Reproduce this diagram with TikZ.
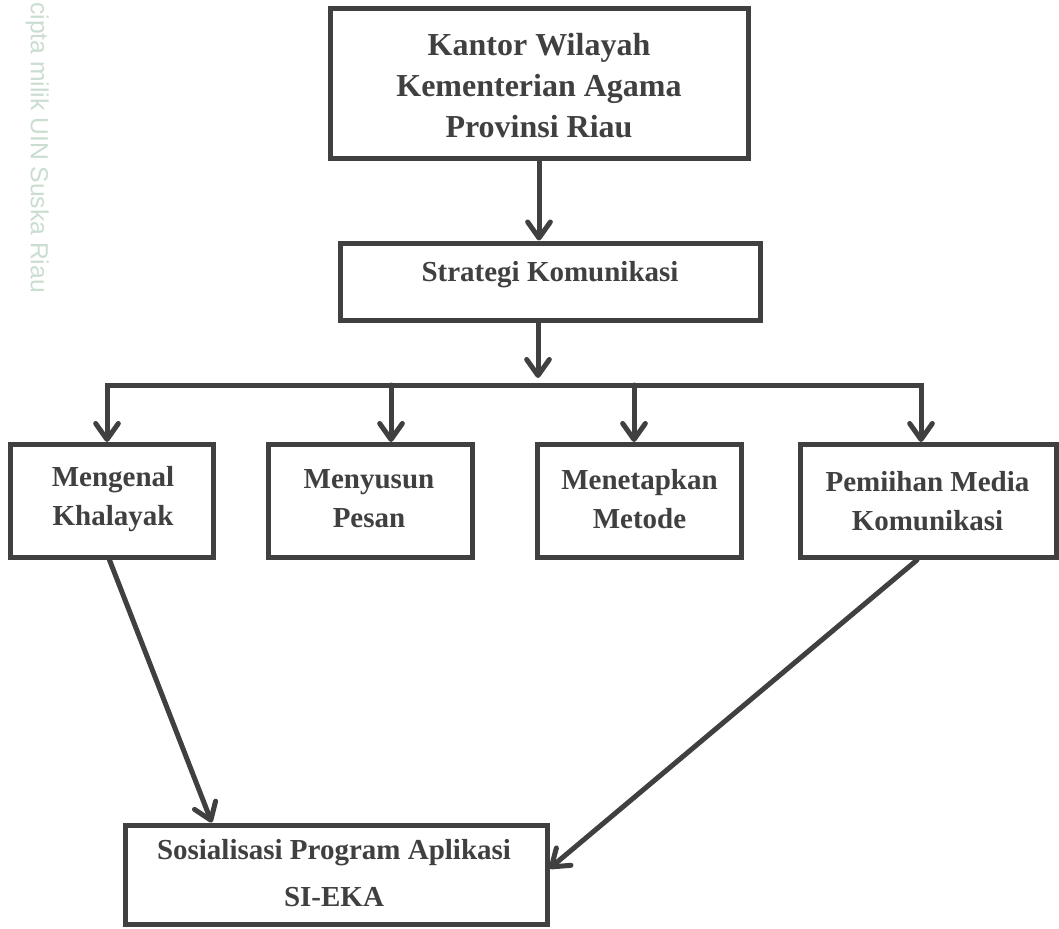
\documentclass[tikz,border=0pt]{standalone}
\usepackage{fontspec}
\setmainfont{Liberation Serif}
\newfontfamily\wmfont{Liberation Sans}
\usetikzlibrary{arrows.meta,calc}
\definecolor{ink}{HTML}{404040}
\definecolor{wm}{HTML}{CADDD0}
\begin{document}
\begin{tikzpicture}[x=0.75pt,y=-0.75pt,
  box/.style={draw=ink, line width=3.75pt, rectangle, inner sep=0pt},
  txt/.style={text=ink, align=center, inner sep=0pt, font=\bfseries\fontsize{21.75}{29.25}\selectfont},
  bigtxt/.style={txt, font=\bfseries\fontsize{24}{30.75}\selectfont},
  link/.style={draw=ink, line width=3.75pt, line cap=rect},
  arr/.style={draw=ink, line width=3.75pt, line cap=round, line join=round,
    -{Straight Barb[length=12pt,width=17pt,round]}}
]
\fill[white] (0,0) rectangle (1059,928);
\useasboundingbox (0,0) rectangle (1059,928);

% faint watermark text
\node[rotate=-90, anchor=base west, text=wm, inner sep=0pt,
  font=\wmfont\fontsize{18.5}{18.5}\selectfont] (wmark) at (31,2) {cipta milik UIN Suska Riau};

% boxes
\node[box, minimum width=418*0.75pt, minimum height=150*0.75pt] (kanwil) at (539,83) {};
\node[box, minimum width=420*0.75pt, minimum height=77*0.75pt] (strat) at (550,281.5) {};
\node[box, minimum width=203*0.75pt, minimum height=113*0.75pt] (m1) at (111.5,501) {};
\node[box, minimum width=204*0.75pt, minimum height=113*0.75pt] (m2) at (370,501) {};
\node[box, minimum width=204*0.75pt, minimum height=113*0.75pt] (m3) at (639,501) {};
\node[box, minimum width=256*0.75pt, minimum height=113*0.75pt] (m4) at (928,501) {};
\node[box, minimum width=422*0.75pt, minimum height=99*0.75pt] (sos) at (336,874.5) {};

% texts
\node[bigtxt] (kanwilT) at (539,86) {Kantor Wilayah\\Kementerian Agama\\Provinsi Riau};
\node[txt] (stratT) at (550,275) {Strategi Komunikasi};
\node[txt] (m1T) at (113,499) {Mengenal\\Khalayak};
\node[txt] (m2T) at (369,499) {Menyusun\\Pesan};
\node[txt] (m3T) at (639.5,499) {Menetapkan\\Metode};
\node[txt] (m4T) at (927.5,501) {Pemiihan Media\\Komunikasi};
\node[txt] (sosT) at (334,873) {Sosialisasi Program Aplikasi\\[6pt]SI-EKA};

% bus coordinates
\coordinate (tip0) at (538,378);
\coordinate (d1) at (107,385);
\coordinate (d2) at (391,385);
\coordinate (d3) at (634,385);
\coordinate (d4) at (921,385);

% connectors
\draw[arr] (kanwil.south) -- (kanwil.south |- strat.north);
\draw[arr] (strat.south -| tip0) -- (tip0);
\draw[link] (d1) -- (d4);
\draw[arr, line cap=rect] (d1) -- (d1 |- m1.north);
\draw[arr] (d2) -- (d2 |- m2.north);
\draw[arr] (d3) -- (d3 |- m3.north);
\draw[arr, line cap=rect] (d4) -- (d4 |- m4.north);
\draw[arr] ($(m1.south)+(-2,0)$) -- ($(sos.north west)!0.209!(sos.north east)$);
\draw[arr] ($(m4.south)+(-11,0)$) -- ($(sos.east)+(0,-6)$);
\end{tikzpicture}
\end{document}
